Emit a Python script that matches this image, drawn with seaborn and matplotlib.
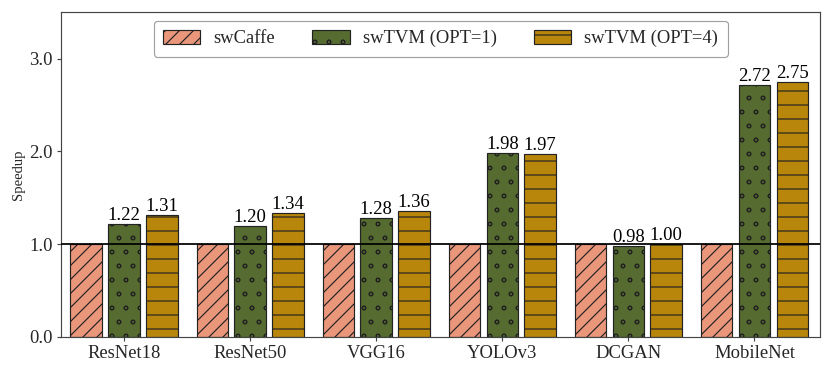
import matplotlib
matplotlib.use("Agg")
import matplotlib.pyplot as plt
import matplotlib.hatch
import seaborn as sns
import pandas as pd

models = ["ResNet18", "ResNet50", "VGG16", "YOLOv3", "DCGAN", "MobileNet"]
methods = ["swCaffe", "swTVM (OPT=1)", "swTVM (OPT=4)"]
swcaffe = [1.00, 1.00, 1.00, 1.00, 1.00, 1.00]
opt1 = [1.22, 1.20, 1.28, 1.98, 0.98, 2.72]
opt4 = [1.31, 1.34, 1.36, 1.97, 1.00, 2.75]
yticks = [0.0, 1.0, 2.0, 3.0]

colors = ["#E9967A", "#556B2F", "#B8860B"]
hatches = ["//", "o", "-"]

rows = []
for name, vals in zip(methods, [swcaffe, opt1, opt4]):
    for m, v in zip(models, vals):
        rows.append({"model": m, "method": name, "speedup": v})
df = pd.DataFrame(rows)

sns.set_theme(style="ticks")
plt.rcParams["font.family"] = ["Liberation Serif", "DejaVu Serif"]
plt.rcParams["hatch.linewidth"] = 1.0
matplotlib.hatch.SmallCircles.size = 0.13

DPI = 84
fig = plt.figure(figsize=(830 / DPI, 374 / DPI), dpi=DPI)
ax = fig.add_axes([0.0735, 0.099, 0.9145, 0.868])

sns.barplot(data=df, x="model", y="speedup", hue="method", order=models,
            hue_order=methods, palette=colors, width=0.9, gap=0.1667,
            edgecolor="#222222", linewidth=1.0, errorbar=None, ax=ax,
            saturation=1, legend=False)

for cont, h in zip(ax.containers, hatches):
    for bar in cont:
        bar.set_hatch(h)
        bar.set_edgecolor("#222222")

for i, cont in enumerate(ax.containers):
    if i == 0:
        continue
    ax.bar_label(cont, fmt="%.2f", padding=0, fontsize=16, color="black")

ax.axhline(1.0, color="black", linewidth=1.5, zorder=5)

ax.set_ylim(0, 3.5)
ax.set_xlim(-0.5, 5.52)
ax.set_yticks(yticks)
ax.set_yticklabels([f"{t:.1f}" for t in yticks])
ax.set_xlabel("")
ax.set_ylabel("Speedup", fontsize=12.5, labelpad=4)
ax.tick_params(axis="both", labelsize=16, length=3.5, width=1,
               color="#444444", direction="out")
for s in ax.spines.values():
    s.set_visible(True)
    s.set_color("#444444")
    s.set_linewidth(1.0)

leg = ax.legend(handles=list(ax.containers), labels=methods,
                loc="upper center", ncol=3, fontsize=16, frameon=True,
                fancybox=True, edgecolor="#888888", handlelength=2.0,
                handleheight=0.75, handletextpad=0.7, columnspacing=2.0,
                borderpad=0.5, borderaxespad=0.45,
                bbox_to_anchor=(0.5, 1.0))
leg.get_frame().set_linewidth(1.0)

fig.savefig("out.png", dpi=DPI)
